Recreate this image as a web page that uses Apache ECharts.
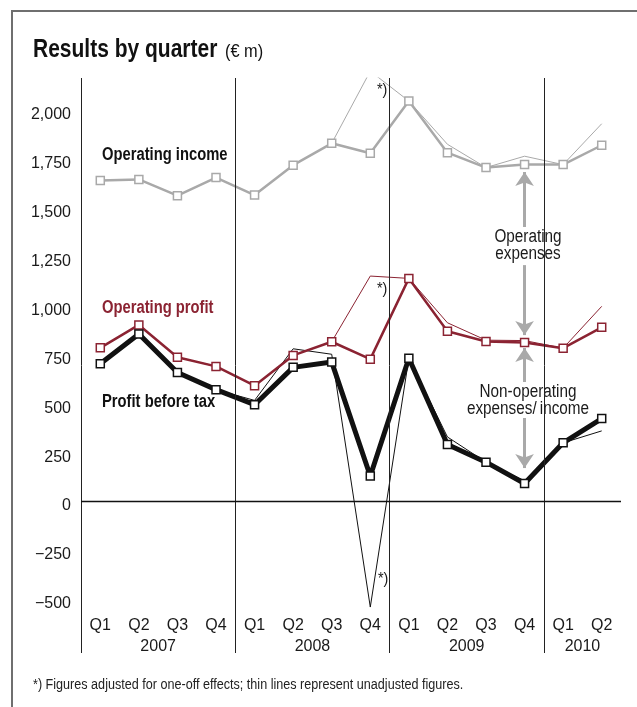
<!DOCTYPE html>
<html>
<head>
<meta charset="utf-8">
<script src="https://cdn.jsdelivr.net/npm/echarts@6/dist/echarts.min.js"></script>
<style>
  html, body { margin: 0; padding: 0; background: #fff; }
  #chart { width: 637px; height: 707px; }
</style>
</head>
<body>
<div id="chart"></div>
<script>
const quarters = ["Q1", "Q2", "Q3", "Q4", "Q1", "Q2", "Q3", "Q4", "Q1", "Q2", "Q3", "Q4", "Q1", "Q2"];
const years = ["2007", "2008", "2009", "2010"];
const yearCenters = [1.5, 5.5, 9.5, 12.5];
const yearBounds = [-0.5, 3.5, 7.5, 11.5];
const yTicks = [-500, -250, 0, 250, 500, 750, 1000, 1250, 1500, 1750, 2000];

// adjusted (thick) and unadjusted (thin) figures, € m
const opIncomeAdj = [1640, 1645, 1562, 1655, 1565, 1718, 1830, 1779, 2046, 1782, 1706, 1721, 1721, 1820];
const opIncomeRaw = [1640, 1645, 1562, 1655, 1565, 1718, 1830, 2199, 2046, 1825, 1706, 1764, 1721, 1930];
const opProfitAdj = [784, 901, 736, 689, 590, 745, 815, 726, 1139, 869, 816, 811, 782, 889];
const opProfitRaw = [784, 901, 736, 689, 590, 745, 815, 1151, 1139, 912, 823, 821, 782, 996];
const pbtAdj = [702, 855, 658, 570, 493, 684, 711, 128, 731, 289, 199, 90, 298, 422];
const pbtRaw = [702, 855, 658, 570, 515, 779, 751, -542, 731, 328, 199, 104, 298, 359];

const FONT = "'Liberation Sans', Arial, sans-serif";
const GREY = "#a9a9a9";
const RED = "#8b2332";
const INK = "#1a1a1a";

const toPairs = (arr) => arr.map((v, i) => [i, v]);

const thin = (data, color, extra) =>
  Object.assign(
    {
      type: "line",
      data: toPairs(data),
      symbol: "none",
      silent: true,
      z: 2,
      lineStyle: { color: color, width: 1 },
    },
    extra || {}
  );

const thick = (data, color, width) => ({
  type: "line",
  data: toPairs(data),
  symbol: "rect",
  symbolSize: 8,
  silent: true,
  z: 3,
  lineStyle: { color: color, width: width },
  itemStyle: { color: "#fff", borderColor: color, borderWidth: 1.5 },
});

// condensed look: Liberation Sans squeezed horizontally
const label = (x, y, text, font, fill, sx, align) => ({
  type: "text",
  x: x,
  y: y,
  scaleX: sx,
  silent: true,
  style: { text: text, font: font, fill: fill, lineHeight: 17, align: align || "left", verticalAlign: "middle" },
});

const arrowHead = { symbol: "arrow", symbolSize: 14 };
const arrowX = 11;

const chart = echarts.init(document.getElementById("chart"));
const option = {
  animation: false,
  backgroundColor: "#fff",
  grid: { left: 81, right: 16, top: 78, bottom: 54 },
  xAxis: [
    {
      type: "value",
      min: -0.5,
      max: 13.5,
      position: "bottom",
      offset: -35,
      axisLine: { show: false },
      axisTick: { show: false },
      splitLine: { show: false },
      axisLabel: {
        customValues: quarters.map((q, i) => i),
        formatter: (v) => quarters[v],
        margin: 0,
        fontFamily: FONT,
        fontSize: 16,
        color: INK,
      },
    },
    {
      type: "value",
      min: -0.5,
      max: 13.5,
      position: "bottom",
      offset: -14,
      axisLine: { show: false },
      axisTick: { show: false },
      splitLine: { show: false },
      axisLabel: {
        customValues: yearCenters,
        formatter: (v) => years[yearCenters.indexOf(v)],
        margin: 0,
        fontFamily: FONT,
        fontSize: 16,
        color: INK,
      },
    },
  ],
  yAxis: {
    type: "value",
    min: -777,
    max: 2164,
    axisLine: { show: false },
    axisTick: { show: false },
    splitLine: { show: false },
    axisLabel: {
      customValues: yTicks,
      formatter: (v) => (v < 0 ? "\u2212" : "") + Math.abs(v).toLocaleString("en-US"),
      margin: 10,
      verticalAlign: "top",
      lineHeight: 10,
      fontFamily: FONT,
      fontSize: 16,
      color: INK,
    },
  },
  series: [
    thin(opIncomeRaw, GREY, {
      markLine: {
        silent: true,
        symbol: "none",
        label: { show: false },
        lineStyle: { color: "#222", width: 1, type: "solid" },
        data: yearBounds.map((x) => ({ xAxis: x })).concat([{ yAxis: 0, lineStyle: { width: 1.3, color: "#111" } }]),
      },
    }),
    thick(opIncomeAdj, GREY, 2.5),
    thin(opProfitRaw, RED),
    thick(opProfitAdj, RED, 2.5),
    thin(pbtRaw, "#111"),
    thick(pbtAdj, "#111", 5),
    {
      type: "line",
      data: [],
      silent: true,
      markLine: {
        silent: true,
        symbol: "none",
        label: { show: false },
        lineStyle: { color: GREY, width: 3, type: "solid" },
        data: [
          [Object.assign({ coord: [arrowX, 1683] }, arrowHead), { coord: [arrowX, 1402], symbol: "none" }],
          [{ coord: [arrowX, 1207], symbol: "none" }, Object.assign({ coord: [arrowX, 849] }, arrowHead)],
          [Object.assign({ coord: [arrowX, 783] }, arrowHead), { coord: [arrowX, 609], symbol: "none" }],
          [{ coord: [arrowX, 425], symbol: "none" }, Object.assign({ coord: [arrowX, 169] }, arrowHead)],
        ],
      },
    },
  ],
  graphic: [
    {
      type: "rect",
      silent: true,
      shape: { x: 12, y: 11, width: 700, height: 720 },
      style: { fill: "none", stroke: "#6f6f6f", lineWidth: 2 },
    },
    label(33, 50, "Results by quarter", "bold 25px " + FONT, "#111", 0.84),
    label(225, 52, "(\u20ac m)", "19px " + FONT, "#111", 0.86),
    label(102, 155, "Operating income", "bold 18px " + FONT, "#111", 0.82),
    label(102, 308, "Operating profit", "bold 18px " + FONT, RED, 0.82),
    label(102, 402, "Profit before tax", "bold 18px " + FONT, "#111", 0.82),
    label(528, 246, "Operating\nexpenses", "18px " + FONT, INK, 0.85, "center"),
    label(528, 401, "Non-operating\nexpenses/\u2009income", "18px " + FONT, INK, 0.85, "center"),
    label(377, 91, "*)", "16px " + FONT, INK, 0.9),
    label(377, 290, "*)", "16px " + FONT, INK, 0.9),
    label(378, 580, "*)", "16px " + FONT, INK, 0.9),
    label(33, 685, "*) Figures adjusted for one-off effects; thin lines represent unadjusted figures.", "14px " + FONT, "#222", 0.9),
  ],
};
chart.setOption(option);
</script>
</body>
</html>
